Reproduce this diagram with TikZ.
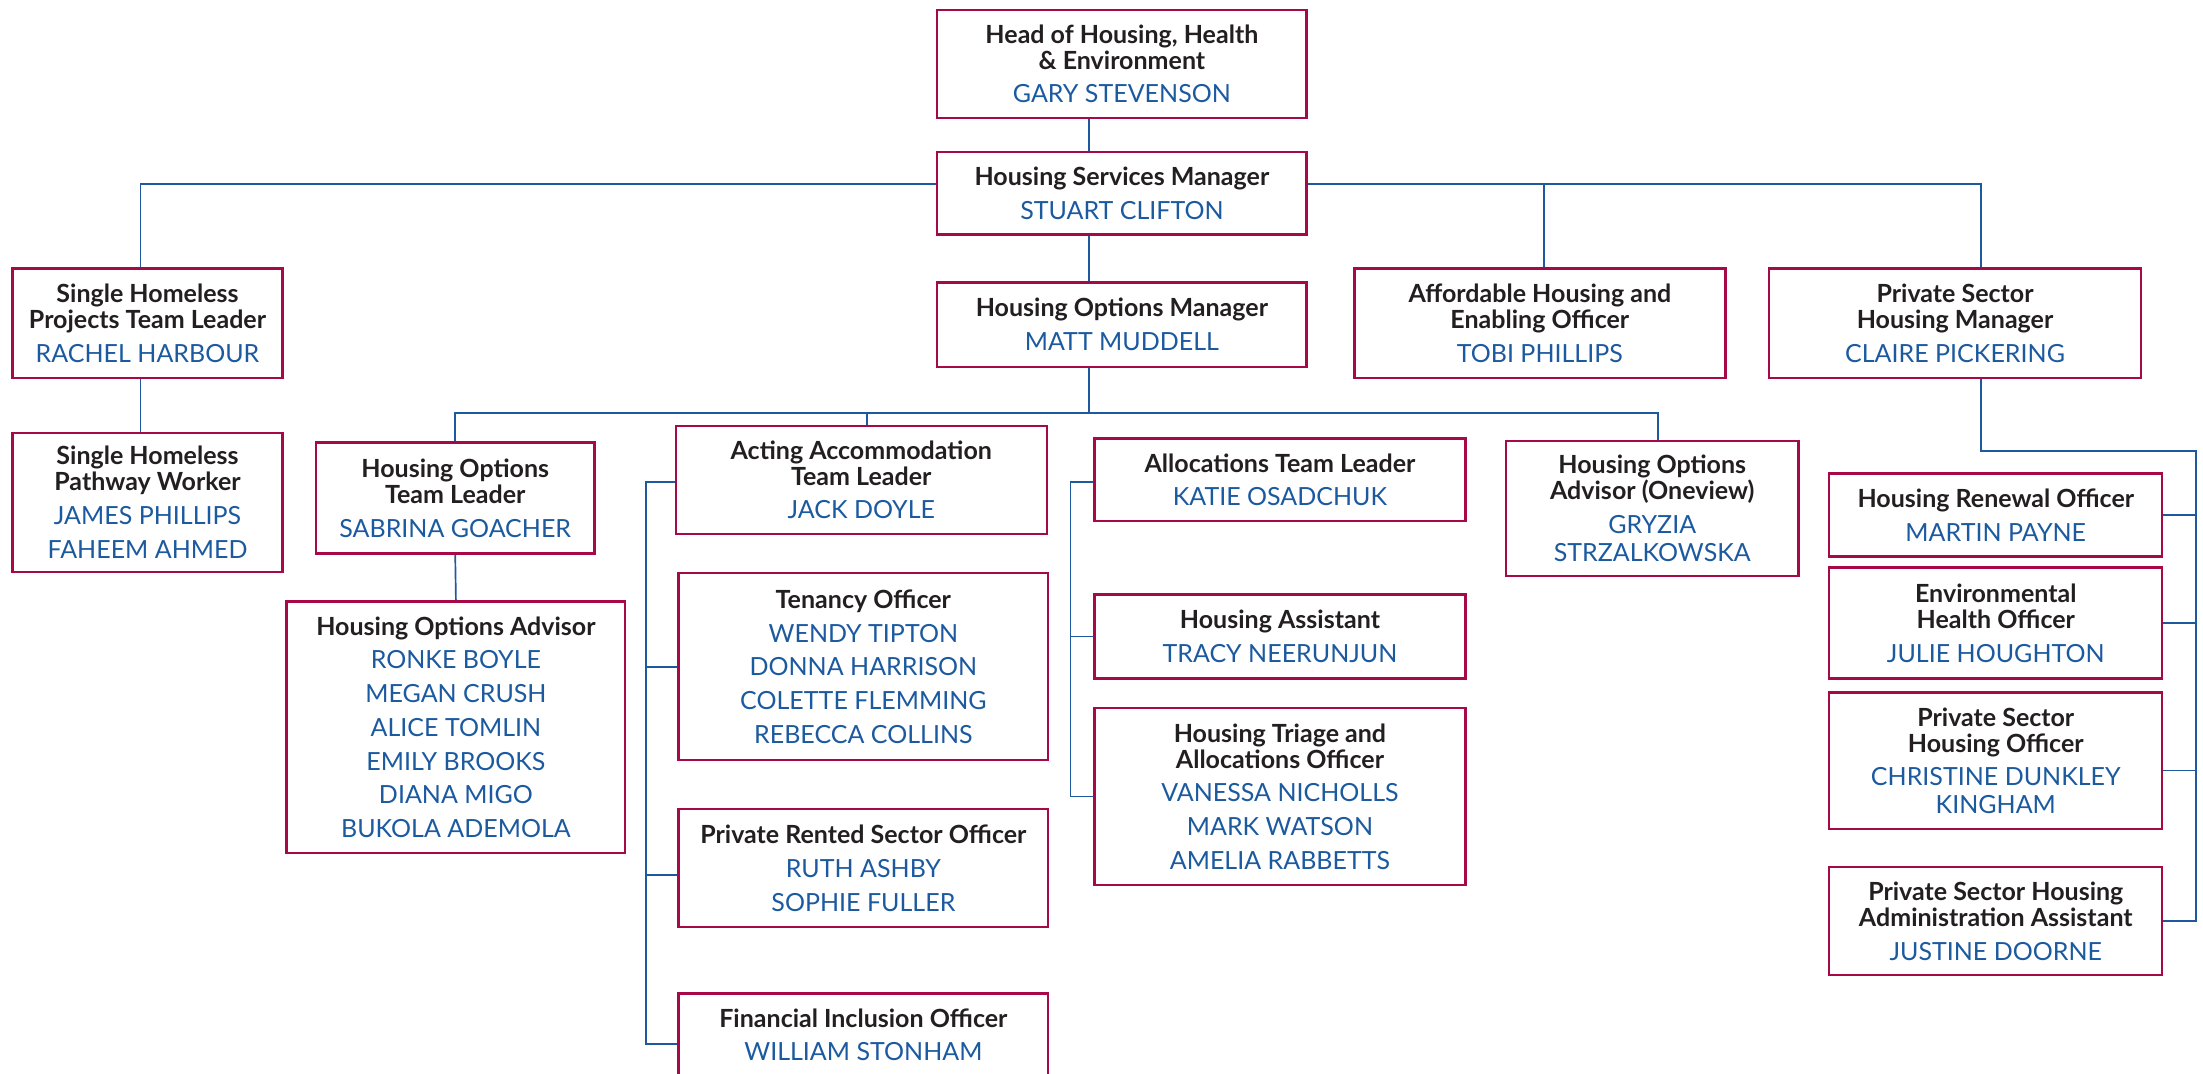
\documentclass[tikz,border=0pt]{standalone}
\usepackage{fontspec}
\setmainfont{Lato}
\definecolor{boxred}{RGB}{166,8,72}
\definecolor{linblue}{RGB}{30,88,158}
\definecolor{nmblue}{RGB}{28,90,160}
\definecolor{ttlc}{RGB}{35,31,32}
\newcommand{\rtitle}[1]{{\bfseries\color{ttlc}#1}}
\newcommand{\rname}[1]{{\color{nmblue}#1}}
\begin{document}
\begin{tikzpicture}[x=1pt,y=-1pt,
  box/.style={draw=boxred, line width=1.7pt, fill=white, inner sep=0pt, align=center,
    font=\fontsize{17.8}{18.5}\selectfont},
  conn/.style={draw=linblue, line width=1.2pt}]
\useasboundingbox (0,0) rectangle (1568,764);
% nodes
\node[box, minimum width=263, minimum height=77] (head) at (798.5,45.5)
  {\rtitle{Head of Housing, Health}\\\rtitle{\& Environment}\\[5.5pt]\rname{GARY STEVENSON}};
\node[box, minimum width=263, minimum height=59] (hsm) at (798.5,137.5)
  {\rtitle{Housing Services Manager}\\[5.5pt]\rname{STUART CLIFTON}};
\node[box, minimum width=263, minimum height=60] (hom) at (798.5,231)
  {\rtitle{Housing Options Manager}\\[5.5pt]\rname{MATT MUDDELL}};
\node[box, minimum width=192, minimum height=78] (shptl) at (105,230)
  {\rtitle{Single Homeless}\\\rtitle{Projects Team Leader}\\[5.5pt]\rname{RACHEL HARBOUR}};
\node[box, minimum width=192, minimum height=99] (shpw) at (105,357.5)
  {\rtitle{Single Homeless}\\\rtitle{Pathway Worker}\\[5.5pt]\rname{JAMES PHILLIPS}\\[5.5pt]\rname{FAHEEM AHMED}};
\node[box, minimum width=198, minimum height=79] (hotl) at (324,354.5)
  {\rtitle{Housing Options}\\\rtitle{Team Leader}\\[5.5pt]\rname{SABRINA GOACHER}};
\node[box, minimum width=241, minimum height=179] (hoa) at (324.5,517.5)
  {\rtitle{Housing Options Advisor}\\[5.5pt]\rname{RONKE BOYLE}\\[5.5pt]\rname{MEGAN CRUSH}\\[5.5pt]\rname{ALICE TOMLIN}\\[5.5pt]\rname{EMILY BROOKS}\\[5.5pt]\rname{DIANA MIGO}\\[5.5pt]\rname{BUKOLA ADEMOLA}};
\node[box, minimum width=264, minimum height=77] (aatl) at (613,341.5)
  {\rtitle{Acting Accommodation}\\\rtitle{Team Leader}\\[5.5pt]\rname{JACK DOYLE}};
\node[box, minimum width=263, minimum height=133] (ten) at (614.5,474.5)
  {\rtitle{Tenancy Officer}\\[5.5pt]\rname{WENDY TIPTON}\\[5.5pt]\rname{DONNA HARRISON}\\[5.5pt]\rname{COLETTE FLEMMING}\\[5.5pt]\rname{REBECCA COLLINS}};
\node[box, minimum width=263, minimum height=84] (prso) at (614.5,618)
  {\rtitle{Private Rented Sector Officer}\\[5.5pt]\rname{RUTH ASHBY}\\[5.5pt]\rname{SOPHIE FULLER}};
\node[box, minimum width=263, minimum height=59] (fio) at (614.5,736.5)
  {\rtitle{Financial Inclusion Officer}\\[5.5pt]\rname{WILLIAM STONHAM}};
\node[box, minimum width=264, minimum height=59] (atl) at (911,341.5)
  {\rtitle{Allocations Team Leader}\\[5.5pt]\rname{KATIE OSADCHUK}};
\node[box, minimum width=264, minimum height=60] (ha) at (911,453)
  {\rtitle{Housing Assistant}\\[5.5pt]\rname{TRACY NEERUNJUN}};
\node[box, minimum width=264, minimum height=126] (htao) at (911,567)
  {\rtitle{Housing Triage and}\\\rtitle{Allocations Officer}\\[5.5pt]\rname{VANESSA NICHOLLS}\\[5.5pt]\rname{MARK WATSON}\\[5.5pt]\rname{AMELIA RABBETTS}};
\node[box, minimum width=208, minimum height=96] (hoao) at (1176,362)
  {\rtitle{Housing Options}\\\rtitle{Advisor (Oneview)}\\[5.5pt]\rname{GRYZIA}\\[1.5pt]\rname{STRZALKOWSKA}};
\node[box, minimum width=264, minimum height=78] (aheo) at (1096,230)
  {\rtitle{Affordable Housing and}\\\rtitle{Enabling Officer}\\[5.5pt]\rname{TOBI PHILLIPS}};
\node[box, minimum width=265, minimum height=78] (pshm) at (1391.5,230)
  {\rtitle{Private Sector}\\\rtitle{Housing Manager}\\[5.5pt]\rname{CLAIRE PICKERING}};
\node[box, minimum width=237, minimum height=59] (hro) at (1420.5,366.5)
  {\rtitle{Housing Renewal Officer}\\[5.5pt]\rname{MARTIN PAYNE}};
\node[box, minimum width=237, minimum height=79] (eho) at (1420.5,443.5)
  {\rtitle{Environmental}\\\rtitle{Health Officer}\\[5.5pt]\rname{JULIE HOUGHTON}};
\node[box, minimum width=237, minimum height=97] (psho) at (1420.5,541.5)
  {\rtitle{Private Sector}\\\rtitle{Housing Officer}\\[5.5pt]\rname{CHRISTINE DUNKLEY}\\[1.5pt]\rname{KINGHAM}};
\node[box, minimum width=237, minimum height=77] (pshaa) at (1420.5,655.5)
  {\rtitle{Private Sector Housing}\\\rtitle{Administration Assistant}\\[5.5pt]\rname{JUSTINE DOORNE}};
% helper coordinates
\coordinate (spine) at (775,0);
\coordinate (hbus) at (775,131);
\coordinate (bus) at (775,294);
\coordinate (av) at (460,0);
\coordinate (bv) at (762,0);
\coordinate (cv) at (1563,321);
\coordinate (fioin) at ([yshift=-6.5pt]fio.west);
\coordinate (prsoin) at ([yshift=-5pt]prso.west);
\coordinate (pshoin) at ([yshift=-7pt]psho.east);
\coordinate (aatlin) at ([yshift=-1.5pt]aatl.west);
\coordinate (atlin) at ([yshift=-1.5pt]atl.west);
\coordinate (aatltop) at ([xshift=4pt]aatl.north);
\coordinate (hoaotop) at ([xshift=4pt]hoao.north);
\coordinate (aheotop) at ([xshift=3pt]aheo.north);
% connectors
\draw[conn] (head.south -| spine) -- (hsm.north -| spine);
\draw[conn] (hsm.south -| spine) -- (hom.north -| spine);
\draw[conn] (hom.south -| spine) -- (bus);
\draw[conn] ([xshift=-5pt]shptl.north) |- (hsm.west |- hbus);
\draw[conn] (hsm.east |- hbus) -| ([xshift=18.5pt]pshm.north);
\draw[conn] (aheotop) -- (aheotop |- hbus);
\draw[conn] ([xshift=-5pt]shptl.south) -- ([xshift=-5pt]shpw.north);
\draw[conn] (hotl.north) |- (bus) -| (hoaotop);
\draw[conn] (aatltop) -- (aatltop |- bus);
\draw[conn] (hotl.south) -- (hoa.north);
\draw[conn] (aatlin) -| (av |- fioin) -- (fioin);
\draw[conn] (ten.west) -- (ten.west -| av);
\draw[conn] (prsoin) -- (prsoin -| av);
\draw[conn] (atlin) -| (bv |- htao.west) -- (htao.west);
\draw[conn] (ha.west) -- (ha.west -| bv);
\draw[conn] ([xshift=18.5pt]pshm.south) |- (cv) |- (pshaa.east);
\draw[conn] (hro.east) -- (hro.east -| cv);
\draw[conn] (eho.east) -- (eho.east -| cv);
\draw[conn] (pshoin) -- (pshoin -| cv);
\end{tikzpicture}
\end{document}
